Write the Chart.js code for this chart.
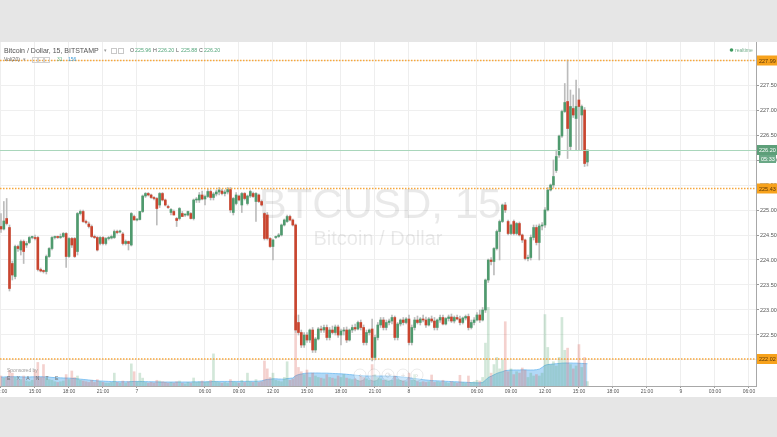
<!DOCTYPE html>
<html>
<head>
<meta charset="utf-8">
<script src="https://cdn.jsdelivr.net/npm/chart.js@4.4.1/dist/chart.umd.min.js"></script>
<style>
  html, body { margin: 0; padding: 0; background: #e6e6e6; }
  canvas { display: block; }
</style>
</head>
<body>
<canvas id="chart" width="777" height="437"></canvas>
<script>
// =============================
// Data (BTCUSD 15m, Bitstamp)
// =============================
const opens = [
  224.67,224.62,224.83,224.65,223.93,223.67,224.27,224.20,224.37,224.30,
  224.35,224.45,224.45,224.45,223.81,223.78,223.77,224.07,224.23,224.45,
  224.46,224.45,224.47,224.53,224.07,224.43,224.43,224.17,224.93,224.97,
  224.77,224.72,224.67,224.47,224.45,224.33,224.45,224.33,224.43,224.44,
  224.45,224.57,224.56,224.52,224.33,224.37,224.30,224.87,224.80,224.81,
  224.97,225.28,225.33,225.30,225.25,225.23,225.10,225.33,225.20,225.07,
  224.95,224.97,224.83,224.83,224.93,224.90,224.90,224.93,224.83,225.20,
  225.20,225.30,225.22,225.27,225.37,225.25,225.32,225.36,225.38,225.33,
  225.36,225.41,224.95,225.13,225.28,225.10,225.33,225.13,225.28,225.33,
  225.17,225.30,225.17,224.93,224.90,224.43,224.27,224.45,224.47,224.50,
  224.70,224.77,224.87,224.80,224.70,222.75,222.55,222.30,222.50,222.40,
  222.60,222.20,222.42,222.62,222.60,222.65,222.45,222.60,222.55,222.66,
  222.50,222.58,222.60,222.40,222.60,222.65,222.62,222.75,222.65,222.35,
  222.55,222.62,222.05,222.45,222.70,222.80,222.65,222.75,222.78,222.85,
  222.45,222.72,222.80,222.75,222.82,222.35,222.65,222.80,222.75,222.82,
  222.80,222.70,222.82,222.78,222.65,222.80,222.85,222.72,222.83,222.86,
  222.78,222.85,222.82,222.75,222.84,222.87,222.65,222.75,222.80,222.90,
  222.80,223.00,223.60,224.00,223.97,224.23,224.57,224.77,225.10,224.77,
  224.53,224.77,224.53,224.73,224.50,224.40,224.03,224.05,224.45,224.65,
  224.35,224.68,224.70,225.00,225.40,225.50,225.79,226.10,226.48,226.97,
  227.17,226.27,227.03,226.83,227.20,226.90,227.00,225.96
];
const highs = [
  224.93,225.17,225.23,224.70,223.98,224.30,224.30,224.40,224.40,224.37,
  224.47,224.48,224.50,224.47,223.84,223.80,224.10,224.25,224.47,224.48,
  224.48,224.52,224.55,224.55,224.45,224.45,224.45,224.95,225.00,225.00,
  224.80,224.76,224.70,224.50,224.47,224.47,224.47,224.45,224.47,224.50,
  224.60,224.60,224.60,224.55,224.40,224.38,224.95,224.90,224.83,224.97,
  225.30,225.35,225.35,225.32,225.27,225.25,225.35,225.35,225.22,225.10,
  225.03,225.00,224.85,225.05,224.97,224.92,224.98,224.95,225.22,225.25,
  225.35,225.38,225.30,225.42,225.40,225.35,225.40,225.45,225.42,225.40,
  225.45,225.45,225.25,225.35,225.30,225.35,225.35,225.30,225.40,225.36,
  225.35,225.32,225.20,224.95,224.95,224.45,224.42,224.48,224.53,224.72,
  224.82,224.90,224.90,224.82,224.72,222.90,222.60,222.55,222.55,222.62,
  222.65,222.45,222.65,222.68,222.70,222.70,222.65,222.68,222.70,222.70,
  222.62,222.65,222.66,222.62,222.70,222.72,222.78,222.80,222.70,222.60,
  222.62,222.82,222.50,222.75,222.85,222.85,222.80,222.82,222.90,222.88,
  222.75,222.82,222.85,222.85,222.90,222.70,222.85,222.88,222.85,222.90,
  222.86,222.85,222.88,222.85,222.82,222.90,222.90,222.85,222.90,222.92,
  222.88,222.90,222.88,222.86,222.90,222.92,222.80,222.85,222.95,223.00,
  223.05,223.62,224.02,224.05,224.25,224.60,224.80,225.12,225.15,224.80,
  224.72,224.80,224.75,224.76,224.52,224.42,224.10,224.50,224.70,224.70,
  224.72,224.75,225.05,225.45,225.52,226.00,226.20,226.50,227.00,227.53,
  228.00,227.40,227.30,227.60,227.43,227.10,227.05,226.20
];
const lows = [
  224.55,224.60,224.70,223.38,223.60,223.62,224.17,224.10,223.93,224.25,
  224.33,224.42,224.40,223.78,223.76,223.74,223.72,224.05,224.20,224.42,
  224.43,224.43,224.45,223.85,224.05,224.25,224.05,224.10,224.90,224.75,
  224.72,224.64,224.45,224.43,224.18,224.30,224.30,224.30,224.40,224.42,
  224.43,224.52,224.54,224.30,224.30,224.20,224.28,224.80,224.78,224.80,
  224.95,225.25,225.28,225.23,225.20,224.70,225.05,225.18,225.08,225.03,
  224.90,224.90,224.67,224.80,224.87,224.87,224.88,224.82,224.80,225.15,
  225.15,225.20,225.10,225.25,225.20,225.20,225.28,225.30,225.30,225.28,
  225.32,224.95,224.90,225.10,225.18,224.95,225.20,225.10,225.25,225.25,
  224.77,225.15,225.08,224.40,224.40,224.25,224.00,224.43,224.45,224.48,
  224.68,224.75,224.78,224.68,222.55,222.50,222.25,222.25,222.35,222.35,
  222.15,222.15,222.40,222.55,222.55,222.40,222.40,222.52,222.50,222.45,
  222.30,222.50,222.35,222.38,222.55,222.58,222.60,222.60,222.30,222.30,
  222.50,221.98,222.00,222.40,222.65,222.60,222.60,222.70,222.72,222.40,
  222.40,222.68,222.70,222.72,222.30,222.30,222.60,222.72,222.70,222.76,
  222.65,222.68,222.75,222.60,222.60,222.75,222.70,222.70,222.78,222.75,
  222.74,222.80,222.70,222.72,222.80,222.60,222.62,222.70,222.78,222.75,
  222.78,222.95,223.55,223.90,223.70,224.20,224.00,224.75,224.95,224.50,
  224.50,224.50,224.50,224.48,224.35,224.00,223.98,224.00,224.40,224.30,
  224.00,224.60,224.65,224.98,225.38,225.45,225.75,226.05,226.45,226.95,
  226.03,226.20,226.85,226.20,226.20,226.20,225.87,225.88
];
const closes = [
  224.62,224.78,224.73,223.43,223.70,224.27,224.23,224.37,224.17,224.33,
  224.45,224.45,224.43,223.81,223.78,223.77,224.07,224.23,224.45,224.46,
  224.45,224.47,224.53,224.07,224.43,224.30,224.07,224.93,224.97,224.77,
  224.75,224.67,224.47,224.45,224.20,224.45,224.33,224.43,224.44,224.47,
  224.57,224.55,224.58,224.33,224.37,224.33,224.93,224.80,224.81,224.97,
  225.28,225.33,225.30,225.25,225.23,225.03,225.33,225.20,225.10,225.05,
  225.01,224.90,224.79,225.03,224.87,224.90,224.97,224.83,225.20,225.20,
  225.30,225.22,225.27,225.37,225.25,225.32,225.36,225.40,225.33,225.36,
  225.41,225.00,225.23,225.30,225.20,225.33,225.23,225.28,225.37,225.27,
  225.33,225.17,225.10,224.43,224.43,224.27,224.40,224.47,224.50,224.70,
  224.80,224.87,224.80,224.70,222.60,222.55,222.30,222.50,222.40,222.60,
  222.20,222.42,222.62,222.60,222.65,222.45,222.60,222.55,222.66,222.50,
  222.58,222.60,222.40,222.60,222.65,222.62,222.75,222.65,222.35,222.55,
  222.60,222.05,222.45,222.70,222.80,222.65,222.75,222.78,222.85,222.45,
  222.72,222.80,222.75,222.82,222.35,222.65,222.80,222.75,222.82,222.80,
  222.70,222.82,222.78,222.65,222.80,222.85,222.72,222.83,222.86,222.78,
  222.85,222.82,222.75,222.84,222.87,222.65,222.75,222.80,222.90,222.80,
  223.00,223.60,224.00,223.97,224.23,224.57,224.77,225.10,225.00,224.53,
  224.70,224.53,224.73,224.50,224.40,224.03,224.05,224.45,224.65,224.35,
  224.68,224.70,225.00,225.40,225.50,225.67,226.07,226.48,226.97,227.15,
  226.63,227.07,226.90,227.07,227.07,227.07,225.93,226.20
];
const volumes = [
  70,55,60,110,90,60,40,45,70,35,
  30,40,110,165,60,150,55,45,40,30,
  25,30,35,80,45,105,60,70,40,35,
  30,25,40,25,45,30,25,20,20,25,
  90,25,20,35,20,30,155,100,30,90,
  55,25,20,25,20,40,35,30,25,20,
  25,20,30,35,20,15,25,20,56,25,
  30,35,25,30,40,225,30,25,20,25,
  20,45,30,25,20,40,25,90,30,25,
  45,25,30,175,120,60,90,40,35,30,
  60,170,40,50,490,130,100,80,112,60,
  90,70,60,55,50,80,60,55,50,70,
  60,80,55,50,45,50,40,70,60,50,
  40,150,80,60,50,40,45,35,40,70,
  45,40,35,30,90,40,80,30,25,30,
  25,30,77,25,30,25,40,25,20,30,
  25,20,75,25,20,70,25,30,40,35,
  60,300,550,90,150,200,120,180,450,100,
  120,80,100,90,126,110,60,90,70,80,
  70,90,500,270,150,170,140,200,480,250,
  265,150,120,140,290,130,200,31
];
const volumeMA = [
  63,63,64,64,65,65,64,64,63,63,
  63,64,64,65,65,64,63,62,60,59,
  58,57,56,56,55,54,52,50,48,46,
  44,42,40,38,36,35,34,33,32,31,
  31,30,30,30,30,30,31,32,32,32,
  31,31,30,30,29,29,28,28,28,28,
  28,28,28,28,28,28,28,28,29,29,
  29,29,29,30,30,32,32,32,32,32,
  32,32,32,32,32,32,32,33,33,33,
  33,34,36,42,46,48,50,50,49,48,
  48,52,54,56,72,80,84,88,90,91,
  91,91,91,90,90,90,89,88,87,86,
  85,84,82,80,78,76,74,72,71,70,
  70,70,70,70,70,70,70,69,68,67,
  66,64,62,60,58,55,52,50,47,44,
  42,40,38,37,36,35,34,33,32,31,
  30,29,28,27,26,25,24,23,22,22,
  24,40,60,68,78,88,95,100,108,110,
  112,112,112,112,113,113,112,112,112,114,
  118,130,145,150,152,154,156,158,160,161,
  161,161,160,160,159,158,157,156
];

// time axis: candle index 0 = 12:00 on the 6th, one step = 15 min
const timeTickIdx = [0,12,24,36,48,72,84,96,108,120,132,144,168,180,192,204,216,228,240,252,264];
const timeTickLabels = ['12:00','15:00','18:00','21:00','7','06:00','09:00','12:00','15:00','18:00','21:00','8',
                        '06:00','09:00','12:00','15:00','18:00','21:00','9','03:00','06:00'];
const priceTicks = [222.0,222.5,223.0,223.5,224.0,224.5,225.0,225.5,226.0,226.5,227.0,227.5,228.0];
const levelLines = [227.99, 225.43, 222.02];
const lastPrice = 226.20;

// =============================
// Helpers
// =============================
const UP = '#4f9a6e', DOWN = '#c9452f';
const FONT = '"Liberation Sans", Arial, sans-serif';
const isUp = (i) => closes[i] >= opens[i];

const bodies = opens.map((o, i) => ({ x: i, y: [Math.min(o, closes[i]), Math.max(o, closes[i])] }));
const wicks  = lows.map((l, i) => ({ x: i, y: [l, highs[i]] }));
const volBars = volumes.map((v, i) => ({ x: i, y: v }));
const volLine = volumeMA.map((v, i) => ({ x: i, y: v }));

// =============================
// Plugins (background, watermark, price lines, legend)
// =============================
const backdrop = {
  id: 'backdrop',
  beforeDraw(chart) {
    const c = chart.ctx;
    c.save();
    c.fillStyle = '#e6e6e6';
    c.fillRect(0, 0, chart.width, chart.height);
    c.fillStyle = '#ffffff';
    c.fillRect(0, 42, chart.width, 355);
    c.restore();
  },
  beforeDatasetsDraw(chart) {
    const c = chart.ctx, a = chart.chartArea;
    const cx = (a.left + a.right) / 2;
    c.save();
    c.fillStyle = 'rgba(0,0,0,0.085)';
    c.textAlign = 'center';
    c.textBaseline = 'alphabetic';
    c.font = '42px ' + FONT;
    c.fillText('BTCUSD, 15', cx + 2, 218);
    c.font = '20px ' + FONT;
    c.fillText('Bitcoin / Dollar', cx, 245);
    c.restore();
  }
};

const priceLines = {
  id: 'priceLines',
  afterDatasetsDraw(chart) {
    const c = chart.ctx, a = chart.chartArea, y = chart.scales.y;
    c.save();
    // current price
    const py = Math.round(y.getPixelForValue(lastPrice)) + 0.5;
    c.strokeStyle = '#a9d6bb';
    c.lineWidth = 1;
    c.beginPath(); c.moveTo(a.left, py); c.lineTo(a.right, py); c.stroke();
    // support / resistance levels
    c.strokeStyle = '#f6a73c';
    c.lineWidth = 1.5;
    c.setLineDash([1.5, 1.5]);
    levelLines.forEach(v => {
      const ly = y.getPixelForValue(v);
      c.beginPath(); c.moveTo(a.left, ly); c.lineTo(a.right, ly); c.stroke();
    });
    c.setLineDash([]);

    // navigation buttons (faint)
    const navX = [360, 374, 388, 403, 417];
    const navG = ['‹', '−', '⟳', '+', '›'];
    navX.forEach((nx, k) => {
      c.beginPath(); c.arc(nx, 375, 6, 0, Math.PI * 2);
      c.fillStyle = 'rgba(255,255,255,0.35)'; c.fill();
      c.strokeStyle = 'rgba(0,0,0,0.08)'; c.lineWidth = 1; c.stroke();
      c.fillStyle = 'rgba(0,0,0,0.15)';
      c.font = '8px ' + FONT; c.textAlign = 'center'; c.textBaseline = 'middle';
      c.fillText(navG[k], nx, 375.5);
    });

    // sponsor
    c.textAlign = 'left'; c.textBaseline = 'middle';
    c.fillStyle = '#a0a0a0';
    c.font = '5px ' + FONT;
    c.fillText('Sponsored by', 7, 371);
    c.fillStyle = '#707070';
    c.font = '5px ' + FONT;
    'EXANTE'.split('').forEach((ch, k) => c.fillText(ch, 7 + k * 9.6, 378.5));
    c.restore();
  },
  afterDraw(chart) {
    const c = chart.ctx, y = chart.scales.y, x = chart.scales.x;
    c.save();
    // time labels (drawn here so the axis does not pad the plot)
    c.textAlign = 'center';
    c.textBaseline = 'middle';
    c.fillStyle = '#555';
    c.font = '5px ' + FONT;
    timeTickIdx.forEach((v, k) => c.fillText(timeTickLabels[k], x.getPixelForValue(v), 391.5));

    c.textAlign = 'left';
    c.font = '5.5px ' + FONT;
    const box = (v, bg, fg, txt) => {
      const by = y.getPixelForValue(v);
      c.fillStyle = bg;
      c.fillRect(757, by - 5, 20, 10);
      c.fillStyle = fg;
      c.fillText(txt, 759, by + 0.5);
    };
    levelLines.forEach(v => box(v, '#f7a21c', '#5a3508', v.toFixed(2)));
    box(lastPrice, '#5d9f79', '#ffffff', lastPrice.toFixed(2));
    c.fillStyle = '#6aa886';
    c.fillRect(759, y.getPixelForValue(lastPrice) + 5, 17, 8);
    c.fillStyle = '#ffffff';
    c.fillText('05:33', 761, y.getPixelForValue(lastPrice) + 9.5);

    // legend top-left
    c.fillStyle = '#555';
    c.font = '7px ' + FONT;
    c.fillText('Bitcoin / Dollar, 15, BITSTAMP', 4, 51);
    c.fillStyle = '#999';
    c.font = '5px ' + FONT;
    c.fillText('▾', 104, 51);
    c.strokeStyle = '#c8c8c8'; c.lineWidth = 1;
    c.strokeRect(111.5, 48.5, 5, 5); c.strokeRect(118.5, 48.5, 5, 5);
    c.font = '5.3px ' + FONT;
    const ohlc = [['O', '225.96', 130], ['H', '226.20', 153], ['L', '225.88', 176], ['C', '226.20', 199]];
    ohlc.forEach(([k, v, px]) => {
      c.fillStyle = '#555'; c.fillText(k, px, 51);
      c.fillStyle = '#53a57a'; c.fillText(v, px + 5, 51);
    });
    c.fillStyle = '#666';
    c.font = '5px ' + FONT;
    c.fillText('Vol(20)', 4, 60);
    c.fillStyle = '#999';
    c.fillText('▾', 23, 60);
    c.strokeStyle = '#d0d0d0';
    [32.5, 38.5, 44.5].forEach(px => c.strokeRect(px, 57.5, 5, 5));
    c.fillStyle = '#5fae7f'; c.fillText('31', 57, 60);
    c.fillStyle = '#3d9ad6'; c.fillText('156', 68, 60);

    // realtime badge
    c.fillStyle = '#3d9a5f';
    c.beginPath(); c.arc(731.5, 50, 1.8, 0, Math.PI * 2); c.fill();
    c.fillStyle = '#78b08f';
    c.font = '5px ' + FONT;
    c.fillText('realtime', 735, 50.5);
    c.restore();
  }
};

// =============================
// Chart
// =============================
const ctx = document.getElementById('chart').getContext('2d');
new Chart(ctx, {
  type: 'bar',
  data: {
    datasets: [
      { type: 'bar', data: bodies, yAxisID: 'y', order: 0, grouped: false,
        backgroundColor: bodies.map((_, i) => isUp(i) ? UP : DOWN),
        barThickness: 2, minBarLength: 1 },
      { type: 'bar', data: wicks, yAxisID: 'y', order: 1, grouped: false,
        backgroundColor: '#bcbcbc', barThickness: 1 },
      { type: 'bar', data: volBars, yAxisID: 'yv', order: 2, grouped: false,
        backgroundColor: volBars.map((_, i) => isUp(i) ? 'rgba(92,170,120,0.28)' : 'rgba(215,90,80,0.28)'),
        barThickness: 2 },
      { type: 'line', data: volLine, yAxisID: 'yv', order: 3,
        fill: 'origin', backgroundColor: 'rgba(100,180,240,0.5)', borderColor: 'rgba(110,185,240,0.8)',
        borderWidth: 1, pointRadius: 0, tension: 0 }
    ]
  },
  options: {
    responsive: false,
    animation: false,
    devicePixelRatio: 1,
    layout: { padding: { top: 42, bottom: 40, left: 0, right: 0 }, autoPadding: false },
    plugins: { legend: { display: false }, tooltip: { enabled: false } },
    scales: {
      x: {
        type: 'linear', min: -0.35, max: 266.5, offset: false,
        afterBuildTicks: s => { s.ticks = timeTickIdx.map(v => ({ value: v })); },
        afterFit: s => { s.height = 11; s.paddingLeft = 0; s.paddingRight = 0; },
        ticks: { display: false },
        grid: { color: '#eeeeee', tickLength: 2, tickColor: '#999', offset: false },
        border: { color: '#a8a8a8' }
      },
      y: {
        position: 'right', min: 221.48, max: 228.36,
        afterBuildTicks: s => { s.ticks = priceTicks.map(v => ({ value: v })); },
        afterFit: s => { s.width = 21; s.paddingTop = 0; s.paddingBottom = 0; },
        ticks: { callback: v => Number(v).toFixed(2), color: '#555',
                 font: { size: 5.5, family: FONT }, padding: 1 },
        grid: { color: '#efefef', tickLength: 3, tickColor: '#999' },
        border: { color: '#a8a8a8' }
      },
      yv: { display: false, min: 0, max: 2408 }
    }
  },
  plugins: [backdrop, priceLines]
});
</script>
</body>
</html>
